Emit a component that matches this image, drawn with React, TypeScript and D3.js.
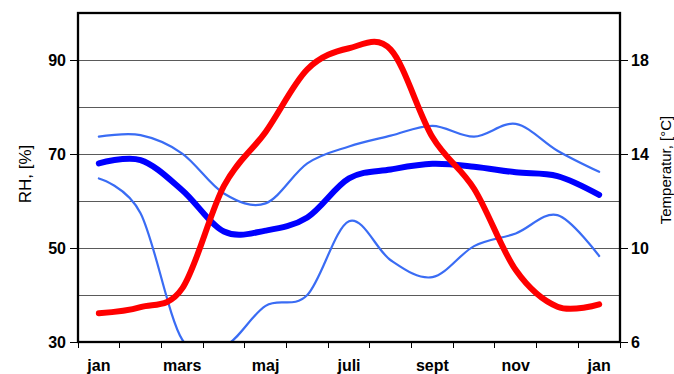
import React from "react";
import * as d3 from "d3";

const months = ["jan", "feb", "mars", "apr", "maj", "jun", "juli", "aug", "sept", "okt", "nov", "dec", "jan"];
const rhMean = [68.0, 68.7, 62.3, 53.5, 53.7, 56.5, 64.8, 66.7, 67.9, 67.3, 66.1, 65.3, 61.3];
const rhMax = [73.7, 74.0, 70.1, 61.6, 59.5, 68.0, 71.6, 73.9, 76.0, 73.7, 76.4, 70.7, 66.2];
const rhMin = [64.8, 57.4, 30.5, 29.0, 37.7, 40.0, 55.7, 47.4, 43.8, 50.4, 53.1, 57.0, 48.3];
const temp = [7.22, 7.48, 8.28, 12.64, 14.94, 17.6, 18.5, 18.44, 14.72, 12.52, 9.06, 7.5, 7.6];
const leftTicks = [30, 50, 70, 90];
const rightTicks = [6, 10, 14, 18];
const gridValues = [40, 50, 60, 70, 80, 90];

const W = 674;
const H = 374;
const L = 78, R = 620, T = 13, B = 342;
const FONT = "'Liberation Sans', Arial, sans-serif";

export default function App() {
  const x = d3.scaleBand<number>().domain(months.map((_, i) => i)).range([L, R]).paddingInner(0).paddingOuter(0);
  const cx = (i: number) => (x(i) as number) + x.bandwidth() / 2;
  const yL = d3.scaleLinear().domain([30, 100]).range([B, T]);
  const yR = d3.scaleLinear().domain([6, 20]).range([B, T]);

  const lineL = d3.line<number>().x((_, i) => cx(i)).y((d) => yL(d)).curve(d3.curveCardinal.tension(0));
  const lineR = d3.line<number>().x((_, i) => cx(i)).y((d) => yR(d)).curve(d3.curveCardinal.tension(0));

  const boundaries = d3.range(months.length + 1).map((i) => (i < months.length ? (x(i) as number) : R));

  return (
    <svg width={W} height={H} style={{ position: "absolute", left: 0, top: 0 }} fontFamily={FONT}>
      <defs>
        <clipPath id="plot">
          <rect x={L} y={T} width={R - L} height={B - T} />
        </clipPath>
      </defs>
      <rect x={0} y={0} width={W} height={H} fill="#fff" />
      {gridValues.map((v) => (
        <line key={v} x1={L} x2={R} y1={yL(v) + 0.5} y2={yL(v) + 0.5} stroke="#5a5a5a" strokeWidth={1} shapeRendering="crispEdges" />
      ))}
      <g clipPath="url(#plot)" fill="none" strokeLinecap="round" strokeLinejoin="round">
        <path d={lineL(rhMax) || ""} stroke="#3a6cf4" strokeWidth={2.2} />
        <path d={lineL(rhMin) || ""} stroke="#3a6cf4" strokeWidth={2.2} />
        <path d={lineL(rhMean) || ""} stroke="#0000ff" strokeWidth={6} />
        <path d={lineR(temp) || ""} stroke="#ff0000" strokeWidth={6} />
      </g>
      <rect x={L} y={T} width={R - L} height={B - T} fill="none" stroke="#000" strokeWidth={2.3} />
      {leftTicks.map((v) => (
        <g key={"l" + v}>
          <line x1={L - 8} x2={L} y1={yL(v) + 0.5} y2={yL(v) + 0.5} stroke="#000" strokeWidth={1} shapeRendering="crispEdges" />
          <text x={L - 12} y={yL(v)} dy="0.36em" textAnchor="end" fontSize={16} fontWeight="bold">{v}</text>
        </g>
      ))}
      {rightTicks.map((v) => (
        <g key={"r" + v}>
          <line x1={R} x2={R + 8} y1={yR(v) + 0.5} y2={yR(v) + 0.5} stroke="#000" strokeWidth={1} shapeRendering="crispEdges" />
          <text x={R + 11} y={yR(v)} dy="0.36em" textAnchor="start" fontSize={16} fontWeight="bold">{v}</text>
        </g>
      ))}
      {boundaries.map((bx, i) => (
        <line key={"t" + i} x1={bx} x2={bx} y1={B} y2={B + 6} stroke="#000" strokeWidth={1} shapeRendering="crispEdges" />
      ))}
      {months.map((m, i) =>
        i % 2 === 0 ? (
          <text key={"m" + i} x={cx(i)} y={371} textAnchor="middle" fontSize={16} fontWeight="bold">{m}</text>
        ) : null
      )}
      <text transform={`translate(31,174) rotate(-90)`} textAnchor="middle" fontSize={17}>RH, [%]</text>
      <text transform={`translate(671,170) rotate(-90)`} textAnchor="middle" fontSize={15}>Temperatur, [°C]</text>
    </svg>
  );
}
